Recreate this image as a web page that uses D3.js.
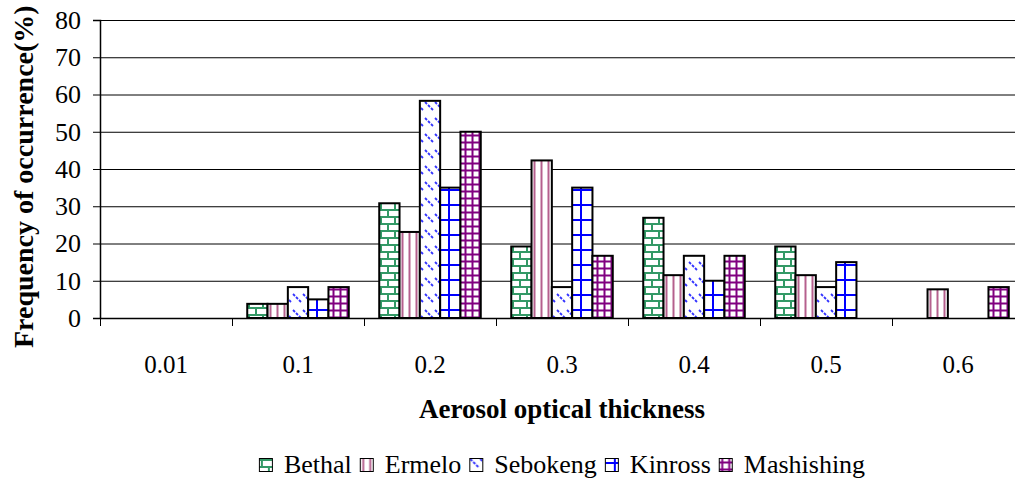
<!DOCTYPE html>
<html>
<head>
<meta charset="utf-8">
<script src="https://cdn.jsdelivr.net/npm/d3@7"></script>
<style>
  body { margin: 0; background: #fff; }
  svg { display: block; }
  text { font-family: "Liberation Serif", "Times New Roman", serif; fill: #000; }
</style>
</head>
<body>
<div id="chart-area"></div>
<script>
const W = 1015;
const H = 478;
const margin = { top: 20, right: -9, bottom: 160, left: 100 };
const width = W - margin.left - margin.right;
const height = H - margin.top - margin.bottom;

// data
const categories = ["0.01", "0.1", "0.2", "0.3", "0.4", "0.5", "0.6"];
const seriesNames = ["Bethal", "Ermelo", "Sebokeng", "Kinross", "Mashishing"];
const bethal = [0, 3.8, 30.8, 19.2, 26.9, 19.2, 0];
const ermelo = [0, 3.8, 23.1, 42.3, 11.5, 11.5, 7.7];
const sebokeng = [0, 8.3, 58.3, 8.3, 16.7, 8.3, 0];
const kinross = [0, 5.0, 35.0, 35.0, 10.0, 15.0, 0];
const mashishing = [0, 8.3, 50.0, 16.7, 16.7, 0, 8.3];
const yTicks = [0, 10, 20, 30, 40, 50, 60, 70, 80];

const seriesValues = [bethal, ermelo, sebokeng, kinross, mashishing];

const svg = d3
    .select("#chart-area")
    .append("svg")
    .attr("width", W)
    .attr("height", H);

// fill patterns, one per series
const defs = svg.append("defs");

const brick = defs.append("pattern")
    .attr("id", "p-bethal").attr("patternUnits", "userSpaceOnUse")
    .attr("width", 14).attr("height", 14);
brick.append("rect").attr("width", 14).attr("height", 14).attr("fill", "#fff");
brick.append("path")
    .attr("d", "M0,1H14M0,8H14M3,0V7M10,7V14")
    .attr("stroke", "#339966").attr("stroke-width", 2);

const stripes = defs.append("pattern")
    .attr("id", "p-ermelo").attr("patternUnits", "userSpaceOnUse")
    .attr("width", 7).attr("height", 7);
stripes.append("rect").attr("width", 7).attr("height", 7).attr("fill", "#fff");
stripes.append("path").attr("d", "M3.5,0V7")
    .attr("stroke", "#b5608e").attr("stroke-width", 2);

const dash = defs.append("pattern")
    .attr("id", "p-sebokeng").attr("patternUnits", "userSpaceOnUse")
    .attr("width", 10).attr("height", 16);
dash.append("rect").attr("width", 10).attr("height", 16).attr("fill", "#fff");
dash.append("path")
    .attr("d", "M1,2L3,4M4,5L6,7M7,8L9,10")
    .attr("stroke", "#3333ff").attr("stroke-width", 1.8);

const bigGrid = defs.append("pattern")
    .attr("id", "p-kinross").attr("patternUnits", "userSpaceOnUse")
    .attr("width", 15).attr("height", 15);
bigGrid.append("rect").attr("width", 15).attr("height", 15).attr("fill", "#fff");
bigGrid.append("path").attr("d", "M10,0V15M0,5H15")
    .attr("stroke", "#0000ff").attr("stroke-width", 2);

const smallGrid = defs.append("pattern")
    .attr("id", "p-mashishing").attr("patternUnits", "userSpaceOnUse")
    .attr("width", 7).attr("height", 7);
smallGrid.append("rect").attr("width", 7).attr("height", 7).attr("fill", "#fff");
smallGrid.append("path").attr("d", "M3.5,0V7M0,3.5H7")
    .attr("stroke", "#800080").attr("stroke-width", 2);

const fills = ["url(#p-bethal)", "url(#p-ermelo)", "url(#p-sebokeng)", "url(#p-kinross)", "url(#p-mashishing)"];

const g = svg.append("g")
    .attr("transform", `translate(${margin.left}, ${margin.top})`);

// scales
const xScale = d3.scaleBand().domain(categories).range([0, width]);
const gap = 0.75 / 6.5; // gap width 150%
const xSub = d3.scaleBand().domain(seriesNames)
    .range([xScale.bandwidth() * gap, xScale.bandwidth() * (1 - gap)]);
const yScale = d3.scaleLinear().domain([0, 80]).range([height, 0]);

// gridlines
g.append("g").selectAll("line")
    .data(yTicks.filter((d) => d > 0))
    .join("line")
    .attr("x1", 0).attr("x2", width)
    .attr("y1", (d) => yScale(d) + 0.5).attr("y2", (d) => yScale(d) + 0.5)
    .attr("stroke", "#000").attr("stroke-width", 1);

// bars
const groups = g.append("g").selectAll("g")
    .data(categories)
    .join("g")
    .attr("transform", (d) => `translate(${xScale(d)}, 0)`);

groups.selectAll("rect")
    .data((c, ci) => seriesNames
        .map((s, si) => ({ s, si, v: seriesValues[si][ci] }))
        .filter((d) => d.v > 0))
    .join("rect")
    .attr("x", (d) => xSub(d.s))
    .attr("y", (d) => yScale(d.v))
    .attr("width", xSub.bandwidth())
    .attr("height", (d) => yScale(0) - yScale(d.v))
    .attr("fill", (d) => fills[d.si])
    .attr("stroke", "#000")
    .attr("stroke-width", 2);

// y axis
const yAxis = g.append("g")
    .call(d3.axisLeft(yScale).tickValues(yTicks).tickSize(7).tickPadding(12));
yAxis.select(".domain").attr("stroke", "#000").attr("stroke-width", 1.5);
yAxis.selectAll(".tick line").attr("stroke", "#000");
yAxis.selectAll(".tick text")
    .attr("font-family", "Liberation Serif")
    .attr("font-size", 26);

// x axis: ticks sit between categories
const xAxis = g.append("g").attr("transform", `translate(0, ${height})`);
xAxis.append("line")
    .attr("x1", 0).attr("x2", width).attr("y1", 0.5).attr("y2", 0.5)
    .attr("stroke", "#000").attr("stroke-width", 1.5);
xAxis.selectAll(".sep")
    .data(categories)
    .join("line")
    .attr("class", "sep")
    .attr("x1", (d) => xScale(d) + 0.5).attr("x2", (d) => xScale(d) + 0.5)
    .attr("y1", 0).attr("y2", 8)
    .attr("stroke", "#000");
xAxis.selectAll(".lbl")
    .data(categories)
    .join("text")
    .attr("class", "lbl")
    .attr("x", (d) => xScale(d) + xScale.bandwidth() / 2)
    .attr("y", 55)
    .attr("text-anchor", "middle")
    .attr("font-size", 25)
    .text((d) => d);

// axis titles
svg.append("text")
    .attr("x", margin.left + width / 2)
    .attr("y", 418)
    .attr("text-anchor", "middle")
    .attr("font-size", 27)
    .attr("font-weight", "bold")
    .text("Aerosol optical thickness");

svg.append("text")
    .attr("transform", "translate(33, 348) rotate(-90)")
    .attr("font-size", 28)
    .attr("font-weight", "bold")
    .text("Frequency of occurrence(%)");

// legend
const legend = svg.append("g");
let lx = 0;
seriesNames.forEach((name, i) => {
    const item = legend.append("g").attr("transform", `translate(${lx}, 0)`);
    item.append("rect")
        .attr("x", 0.5).attr("y", -14.5)
        .attr("width", 13).attr("height", 13)
        .attr("fill", fills[i])
        .attr("stroke", "#000").attr("stroke-width", 1);
    const t = item.append("text")
        .attr("x", 25).attr("y", 0)
        .attr("font-size", 26)
        .text(name);
    lx += 25 + t.node().getComputedTextLength() + 8;
});
legend.attr("transform", `translate(${margin.left + width / 2 - (lx - 8) / 2}, 473)`);
</script>
</body>
</html>
